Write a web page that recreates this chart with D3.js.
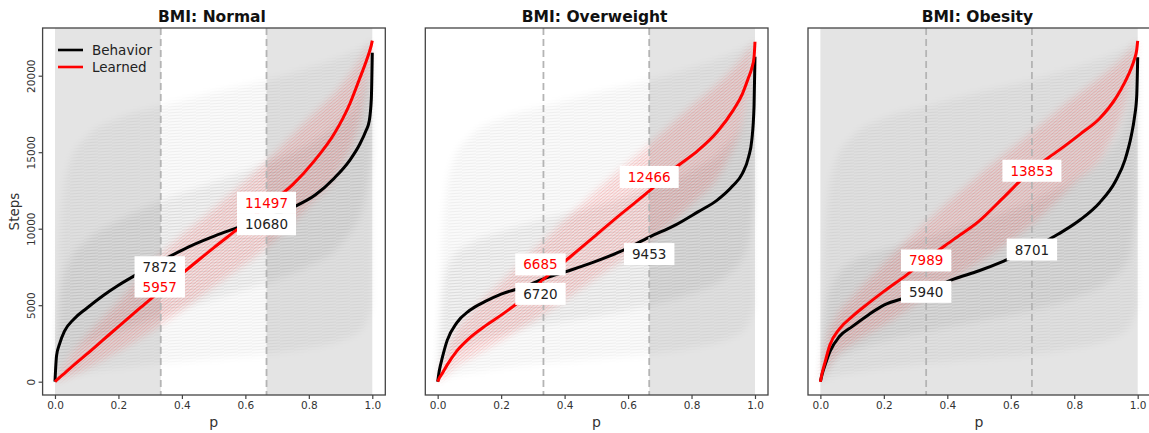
<!DOCTYPE html>
<html>
<head>
<meta charset="utf-8">
<script src="https://cdn.jsdelivr.net/npm/d3@7"></script>
<style>
  body { margin: 0; background: #fff; }
  svg { display: block; font-family: "DejaVu Sans", sans-serif; }
</style>
</head>
<body>
<div id="chart"></div>
<script>
// ---- data ----
const panelTitles = ['BMI: Normal', 'BMI: Overweight', 'BMI: Obesity'];
const shadedRanges = [[[0, 1 / 3], [2 / 3, 1]], [[2 / 3, 1]], [[0, 1]]];
const cutPoints = [1 / 3, 2 / 3];

// quantile grid for the two summary curves
const pGrid = [0, 0.005, 0.015, 0.03, 0.06, 0.1, 0.15, 0.2, 0.27, 0.333, 0.42, 0.5, 0.58, 0.667, 0.75, 0.82, 0.88, 0.93, 0.96, 0.98, 0.99, 0.997, 1];

const behaviorNormal     = [0, 1700, 2500, 3300, 4100, 4800, 5600, 6300, 7150, 7872, 8800, 9500, 10100, 10680, 11400, 12200, 13300, 14500, 15500, 16400, 17000, 18500, 21500];
const learnedNormal      = [0, 100, 280, 550, 1100, 1800, 2700, 3600, 4850, 5957, 7400, 8750, 10050, 11497, 12900, 14500, 16200, 18200, 19800, 20900, 21500, 22000, 22290];
const behaviorOverweight = [0, 700, 1600, 2700, 3850, 4650, 5250, 5730, 6180, 6720, 7300, 7880, 8550, 9453, 10250, 11100, 11850, 12800, 13600, 14700, 15800, 18000, 21240];
const learnedOverweight  = [0, 230, 560, 1100, 2000, 2850, 3650, 4350, 5450, 6685, 8200, 9600, 11000, 12466, 14000, 15100, 16300, 17700, 18800, 19900, 20500, 21200, 22220];
const behaviorObesity    = [0, 450, 1100, 1960, 2950, 3600, 4350, 5000, 5500, 5940, 6700, 7250, 7900, 8701, 9650, 10600, 11700, 13100, 14500, 16100, 17300, 18700, 21200];
const learnedObesity     = [0, 500, 1300, 2400, 3450, 4250, 5100, 5900, 6950, 7989, 9300, 10500, 12100, 13853, 15100, 16200, 17200, 18500, 19600, 20500, 21100, 21700, 22270];

// envelopes of the individual traces (thin lines behind the summary curves)
const bandP = [0, 0.02, 0.05, 0.1, 0.2, 0.333, 0.5, 0.667, 0.8, 0.9, 0.97, 1];

const grayOuterLo = [0, 200, 400, 600, 900, 1200, 1500, 1800, 2200, 2700, 3500, 5000];
const grayOuterHi = [0, 11000, 14500, 16000, 17200, 18000, 18900, 19700, 20500, 21200, 21900, 22300];

const grayInnerNormalLo     = [0, 1000, 1800, 2500, 3300, 4300, 5400, 6500, 7600, 9000, 11500, 15000];
const grayInnerNormalHi     = [0, 6000, 8000, 9200, 10500, 11800, 13000, 14300, 15500, 17000, 19000, 21500];
const grayInnerOverweightLo = [0, 1000, 1800, 2400, 3100, 3700, 4300, 5000, 5800, 6800, 8500, 12000];
const grayInnerOverweightHi = [0, 6500, 8200, 9000, 9800, 10600, 11500, 12600, 13800, 15200, 17500, 21000];
const grayInnerObesityLo    = [0, 800, 1500, 2000, 2700, 3300, 4000, 4700, 5500, 6500, 8000, 12000];
const grayInnerObesityHi    = [0, 5000, 6800, 7800, 8600, 9400, 10500, 11800, 13200, 14800, 17500, 21000];

const redNormalLo     = [0, 150, 400, 900, 2000, 3700, 6200, 8800, 11500, 14000, 18000, 22290];
const redNormalHi     = [0, 700, 1700, 3000, 5200, 8300, 11300, 14400, 17200, 19300, 21300, 22290];
const redOverweightLo = [0, 300, 900, 1500, 2700, 4400, 6800, 9200, 11600, 14000, 18000, 22220];
const redOverweightHi = [0, 1500, 3000, 4400, 6500, 9200, 12500, 15500, 18000, 19800, 21400, 22220];
const redObesityLo    = [0, 800, 1700, 2500, 3700, 5600, 7800, 10300, 13000, 15200, 19000, 22270];
const redObesityHi    = [0, 2600, 4200, 5500, 7700, 10400, 13500, 16300, 18600, 20200, 21500, 22270];

const xTicks = [0, 0.2, 0.4, 0.6, 0.8, 1.0];
const yTicks = [0, 5000, 10000, 15000, 20000];

// ---- assemble panels ----
const zipPts = (ps, vs) => ps.map((p, i) => ({ p, v: vs[i] }));
const zipBand = (ps, lo, hi) => ps.map((p, i) => ({ p, lo: lo[i], hi: hi[i] }));

const panels = [
  { behavior: behaviorNormal, learned: learnedNormal, innerLo: grayInnerNormalLo, innerHi: grayInnerNormalHi, redLo: redNormalLo, redHi: redNormalHi },
  { behavior: behaviorOverweight, learned: learnedOverweight, innerLo: grayInnerOverweightLo, innerHi: grayInnerOverweightHi, redLo: redOverweightLo, redHi: redOverweightHi },
  { behavior: behaviorObesity, learned: learnedObesity, innerLo: grayInnerObesityLo, innerHi: grayInnerObesityHi, redLo: redObesityLo, redHi: redObesityHi }
];

// label nudges in px (layout only): [behavior@1/3, learned@1/3, behavior@2/3, learned@2/3]
const labelNudge = [[6, -4, 6, -3], [15, -15, 17, -14], [1, 1, 1, 1]];
const labelShiftX = [-1, -3, 0];

const width = 1149;
const height = 433;
const frameLeft = [42.6, 425.3, 808];
const frameW = 342.7;
const frameTop = 28;
const frameBottom = 395;

const svg = d3.select('#chart')
  .append('svg')
  .attr('width', width)
  .attr('height', height);

const defs = svg.append('defs');

defs.append('pattern')
  .attr('id', 'grayHatch')
  .attr('patternUnits', 'userSpaceOnUse')
  .attr('width', 14)
  .attr('height', 3)
  .append('path')
  .attr('d', 'M0,2L14,1')
  .attr('stroke', '#000')
  .attr('stroke-opacity', 0.08)
  .attr('stroke-width', 0.6);

defs.append('pattern')
  .attr('id', 'redHatch')
  .attr('patternUnits', 'userSpaceOnUse')
  .attr('width', 6)
  .attr('height', 2.4)
  .attr('patternTransform', 'rotate(-40)')
  .append('path')
  .attr('d', 'M0,1.2L6,1.2')
  .attr('stroke', '#ff0000')
  .attr('stroke-opacity', 0.24)
  .attr('stroke-width', 0.6);

defs.append('filter')
  .attr('id', 'soft')
  .attr('x', '-20%').attr('y', '-20%').attr('width', '140%').attr('height', '140%')
  .append('feGaussianBlur')
  .attr('stdDeviation', 3.5);

const y = d3.scaleLinear().domain([-870, 23118]).range([frameBottom, frameTop]);

panels.forEach((panel, i) => {
  const left = frameLeft[i];
  const x = d3.scaleLinear().domain([-0.039, 1.041]).range([left, left + frameW]);
  const g = svg.append('g');

  defs.append('clipPath')
    .attr('id', `clip${i}`)
    .append('rect')
    .attr('x', left)
    .attr('y', frameTop)
    .attr('width', frameW)
    .attr('height', frameBottom - frameTop);

  // shaded tertiles
  g.selectAll('rect.shade')
    .data(shadedRanges[i])
    .enter()
    .append('rect')
    .attr('class', 'shade')
    .attr('x', d => x(d[0]))
    .attr('y', frameTop)
    .attr('width', d => x(d[1]) - x(d[0]))
    .attr('height', frameBottom - frameTop)
    .style('fill', '#e4e4e4');

  const traces = g.append('g').attr('clip-path', `url(#clip${i})`);

  const area = d3.area()
    .x(d => x(d.p))
    .y0(d => y(d.lo))
    .y1(d => y(d.hi))
    .curve(d3.curveMonotoneX);

  // each band: a soft-edged mask filled with a faint tint plus fine hatching
  const drawBand = (band, name, color, opacity, pattern) => {
    const id = `mask${i}${name}`;
    defs.append('mask')
      .attr('id', id)
      .attr('maskUnits', 'userSpaceOnUse')
      .attr('x', left).attr('y', frameTop).attr('width', frameW).attr('height', frameBottom - frameTop)
      .append('path')
      .datum(band)
      .attr('d', area)
      .attr('filter', 'url(#soft)')
      .style('fill', '#fff');
    const bg = traces.append('g').attr('mask', `url(#${id})`);
    bg.append('rect')
      .attr('x', left).attr('y', frameTop).attr('width', frameW).attr('height', frameBottom - frameTop)
      .style('fill', color).style('fill-opacity', opacity);
    bg.append('rect')
      .attr('x', left).attr('y', frameTop).attr('width', frameW).attr('height', frameBottom - frameTop)
      .style('fill', `url(#${pattern})`);
  };

  drawBand(zipBand(bandP, grayOuterLo, grayOuterHi), 'outer', '#000', 0.02, 'grayHatch');
  drawBand(zipBand(bandP, panel.innerLo, panel.innerHi), 'inner', '#000', 0.035, 'grayHatch');
  drawBand(zipBand(bandP, panel.redLo, panel.redHi), 'red', '#ff0000', 0.06, 'redHatch');

  // dashed cut lines
  g.selectAll('line.cut')
    .data(cutPoints)
    .enter()
    .append('line')
    .attr('class', 'cut')
    .attr('x1', d => x(d))
    .attr('x2', d => x(d))
    .attr('y1', frameTop)
    .attr('y2', frameBottom)
    .style('stroke', '#b4b4b4')
    .style('stroke-width', 1.8)
    .style('stroke-dasharray', '7,4');

  // summary curves
  const line = d3.line()
    .x(d => x(d.p))
    .y(d => y(d.v))
    .curve(d3.curveMonotoneX);

  traces.append('path')
    .datum(zipPts(pGrid, panel.behavior))
    .attr('d', line)
    .style('fill', 'none')
    .style('stroke', '#000')
    .style('stroke-width', 3);

  traces.append('path')
    .datum(zipPts(pGrid, panel.learned))
    .attr('d', line)
    .style('fill', 'none')
    .style('stroke', '#ff0000')
    .style('stroke-width', 3);

  // value labels at the cut points
  const valueAt = (arr, p) => arr[pGrid.findIndex(q => Math.abs(q - p) < 0.001)];
  const labels = [
    { p: 1 / 3, v: valueAt(panel.behavior, 0.333), color: '#222' },
    { p: 1 / 3, v: valueAt(panel.learned, 0.333), color: '#ff0000' },
    { p: 2 / 3, v: valueAt(panel.behavior, 0.667), color: '#222' },
    { p: 2 / 3, v: valueAt(panel.learned, 0.667), color: '#ff0000' }
  ];
  labels.forEach((d, k) => {
    d.cx = x(d.p) + (k < 2 ? labelShiftX[i] : 0);
    d.cy = y(d.v) + labelNudge[i][k];
  });

  const charW = 8.6;
  g.selectAll('rect.lbl')
    .data(labels)
    .enter()
    .append('rect')
    .attr('class', 'lbl')
    .attr('x', d => d.cx - (String(d.v).length * charW + 16) / 2)
    .attr('y', d => d.cy - 11)
    .attr('width', d => String(d.v).length * charW + 16)
    .attr('height', 22)
    .style('fill', '#fff');

  g.selectAll('text.lbl')
    .data(labels)
    .enter()
    .append('text')
    .attr('class', 'lbl')
    .attr('x', d => d.cx)
    .attr('y', d => d.cy)
    .attr('text-anchor', 'middle')
    .attr('dominant-baseline', 'central')
    .text(d => d.v)
    .style('font-size', '13.5px')
    .style('fill', d => d.color);

  // frame
  g.append('rect')
    .attr('x', left)
    .attr('y', frameTop)
    .attr('width', frameW)
    .attr('height', frameBottom - frameTop)
    .style('fill', 'none')
    .style('stroke', '#444')
    .style('stroke-width', 1.3);

  // x axis
  const xAxis = g.append('g')
    .attr('transform', `translate(0, ${frameBottom})`)
    .call(d3.axisBottom(x).tickValues(xTicks).tickFormat(d3.format('.1f')).tickSize(4).tickPadding(3));
  xAxis.select('.domain').remove();
  xAxis.selectAll('line').style('stroke', '#444').style('stroke-width', 1.2);
  xAxis.selectAll('text').style('font-size', '10.5px').style('fill', '#333').style('font-family', '"DejaVu Sans", sans-serif');

  g.append('text')
    .attr('x', x(0.5))
    .attr('y', 427)
    .attr('text-anchor', 'middle')
    .text('p')
    .style('font-size', '14px')
    .style('fill', '#333');

  g.append('text')
    .attr('x', left + frameW / 2 - 2)
    .attr('y', 22)
    .attr('text-anchor', 'middle')
    .text(panelTitles[i])
    .style('font-size', '15.5px')
    .style('font-weight', 'bold')
    .style('fill', '#111');

  if (i === 0) {
    const yAxis = g.append('g')
      .attr('transform', `translate(${left}, 0)`)
      .call(d3.axisLeft(y).tickValues(yTicks).tickFormat(d3.format('d')).tickSize(4).tickPadding(0));
    yAxis.select('.domain').remove();
    yAxis.selectAll('line').style('stroke', '#444').style('stroke-width', 1.2);
    yAxis.selectAll('text')
      .attr('x', 0)
      .attr('dy', 0)
      .attr('text-anchor', 'middle')
      .attr('transform', `translate(-8, 0) rotate(-90)`)
      .style('font-size', '10.5px')
      .style('fill', '#333')
      .style('font-family', '"DejaVu Sans", sans-serif');

    g.append('text')
      .attr('text-anchor', 'middle')
      .attr('transform', `translate(19, ${(frameTop + frameBottom) / 2}) rotate(-90)`)
      .text('Steps')
      .style('font-size', '13.5px')
      .style('fill', '#333');

    // legend
    const legend = [{ name: 'Behavior', color: '#000' }, { name: 'Learned', color: '#ff0000' }];
    const lg = g.selectAll('g.legend')
      .data(legend)
      .enter()
      .append('g')
      .attr('class', 'legend')
      .attr('transform', (d, k) => `translate(58, ${50 + k * 17})`);
    lg.append('line')
      .attr('x1', 0)
      .attr('x2', 25)
      .style('stroke', d => d.color)
      .style('stroke-width', 2.6);
    lg.append('text')
      .attr('x', 34)
      .attr('dominant-baseline', 'central')
      .text(d => d.name)
      .style('font-size', '13.5px')
      .style('fill', '#222');
  }
});
</script>
</body>
</html>
